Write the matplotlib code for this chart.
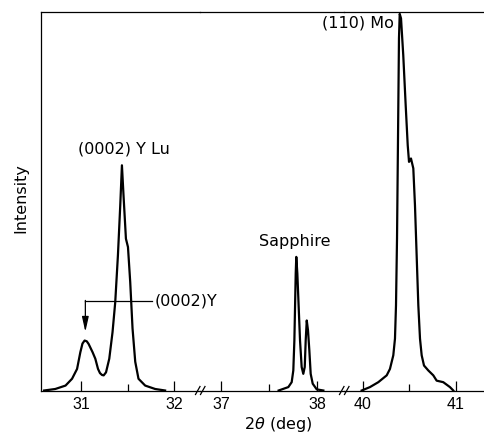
import matplotlib
matplotlib.use("Agg")
import matplotlib.pyplot as plt
from matplotlib.lines import Line2D

plt.rcParams['font.family'] = ['DejaVu Sans']
plt.rcParams['mathtext.fontset'] = 'dejavusans'

# ---- data ----
# segment 1: (0002) Y and (0002) Y Lu peaks
x_seg1 = [30.60, 30.72, 30.83, 30.90, 30.954, 30.989, 31.012, 31.035, 31.058, 31.078,
          31.121, 31.15, 31.179, 31.20, 31.222, 31.24, 31.265, 31.30, 31.335, 31.364,
          31.393, 31.418, 31.436, 31.453, 31.479, 31.501, 31.525, 31.55, 31.579, 31.614,
          31.686, 31.793, 31.90]
y_seg1 = [0.0, 0.004, 0.013, 0.031, 0.057, 0.101, 0.124, 0.132, 0.130, 0.123,
          0.101, 0.084, 0.057, 0.046, 0.041, 0.040, 0.048, 0.084, 0.154, 0.233,
          0.357, 0.489, 0.595, 0.516, 0.401, 0.379, 0.287, 0.164, 0.076, 0.031,
          0.013, 0.004, 0.0]

# segment 2: sapphire doublet
x_seg2 = [37.60, 37.701, 37.736, 37.753, 37.764, 37.771, 37.778, 37.784, 37.795, 37.809,
          37.823, 37.84, 37.857, 37.872, 37.882, 37.893, 37.906, 37.92, 37.934, 37.955,
          37.997, 38.066]
y_seg2 = [0.0, 0.009, 0.022, 0.053, 0.132, 0.22, 0.309, 0.353, 0.309, 0.22,
          0.132, 0.062, 0.044, 0.062, 0.132, 0.185, 0.159, 0.106, 0.044, 0.018,
          0.003, 0.0]

# segment 3: (110) Mo
x_seg3 = [39.986, 40.075, 40.165, 40.255, 40.29, 40.326, 40.344, 40.355, 40.366, 40.373,
          40.38, 40.387, 40.395, 40.409, 40.433, 40.459, 40.481, 40.495, 40.516, 40.541,
          40.559, 40.577, 40.595, 40.613, 40.631, 40.656, 40.702, 40.756, 40.792, 40.863,
          40.935, 40.971]
y_seg3 = [0.0, 0.009, 0.022, 0.040, 0.057, 0.093, 0.137, 0.225, 0.402, 0.577,
          0.754, 0.931, 0.995, 0.983, 0.886, 0.754, 0.648, 0.604, 0.613, 0.587,
          0.489, 0.357, 0.225, 0.137, 0.093, 0.066, 0.053, 0.040, 0.026, 0.022,
          0.009, 0.0]

seg_limits = [(30.561, 32.275), (36.781, 38.281), (39.796, 41.301)]
major_ticks = [[31, 32], [37, 38], [40, 41]]
minor_ticks = [[31.5], [37.5], [40.5]]
tick_labels = [["31", "32"], ["37", "38"], ["40", "41"]]

W, H = 484, 434
fig = plt.figure(figsize=(W / 100, H / 100), dpi=100)

def fx(px):
    return px / W

def fy(py):
    return 1 - py / H

bottom = fy(390.5)
top = fy(12)
edges = [40.5, 200, 344, 484]
axes = []
for i in range(3):
    ax = fig.add_axes([fx(edges[i]), bottom, fx(edges[i + 1]) - fx(edges[i]), top - bottom])
    axes.append(ax)

segs = [(x_seg1, y_seg1), (x_seg2, y_seg2), (x_seg3, y_seg3)]
for i, ax in enumerate(axes):
    xs, ys = segs[i]
    ax.plot(xs, ys, color='black', lw=1.6, solid_joinstyle='round', clip_on=False, zorder=3)
    ax.set_xlim(*seg_limits[i])
    ax.set_ylim(0, 1.0)
    ax.patch.set_visible(False)
    for s in ['left', 'right', 'top', 'bottom']:
        ax.spines[s].set_linewidth(0.9)
    ax.spines['right'].set_visible(False)
    if i > 0:
        ax.spines['left'].set_visible(False)
    ax.set_yticks([])
    ax.set_xticks(major_ticks[i])
    ax.set_xticklabels(tick_labels[i], fontfamily='Liberation Sans', fontsize=11.5)
    ax.set_xticks(minor_ticks[i], minor=True)
    ax.tick_params(axis='x', which='major', direction='in', length=7, width=0.9, pad=5)
    ax.tick_params(axis='x', which='minor', direction='in', length=5, width=0.9)

ax1, ax2, ax3 = axes

fs = 11.5
# annotations
ax1.text(31.46, 0.638, "(0002) Y Lu", ha='center', va='center', fontsize=fs)
ax1.plot([31.043, 31.76], [0.236, 0.236], color='black', lw=0.9, zorder=2)
ax1.annotate("", xy=(31.043, 0.155), xytext=(31.043, 0.238),
             arrowprops=dict(arrowstyle='-|>,head_length=0.9,head_width=0.2',
                             color='black', lw=0.9, shrinkA=0, shrinkB=0,
                             mutation_scale=10))
ax1.text(31.79, 0.236, "(0002)Y", ha='left', va='center', fontsize=fs)
ax2.text(37.77, 0.394, "Sapphire", ha='center', va='center', fontsize=fs)
ax3.text(40.33, 0.97, "(110) Mo", ha='right', va='center', fontsize=fs)

# axis labels
fig.text(fx(278), fy(425), r"2$\theta$ (deg)", ha='center', va='center', fontsize=fs)
fig.text(fx(21), fy(198), "Intensity", ha='center', va='center', rotation=90, fontsize=fs)

# axis break marks
for bx in [200, 344]:
    for dx in [-4.5, 0.5]:
        fig.add_artist(Line2D([fx(bx + dx), fx(bx + dx + 4.5)], [fy(394.5), fy(386.5)],
                              color='black', lw=0.9))

fig.savefig("out.png", dpi=100)
